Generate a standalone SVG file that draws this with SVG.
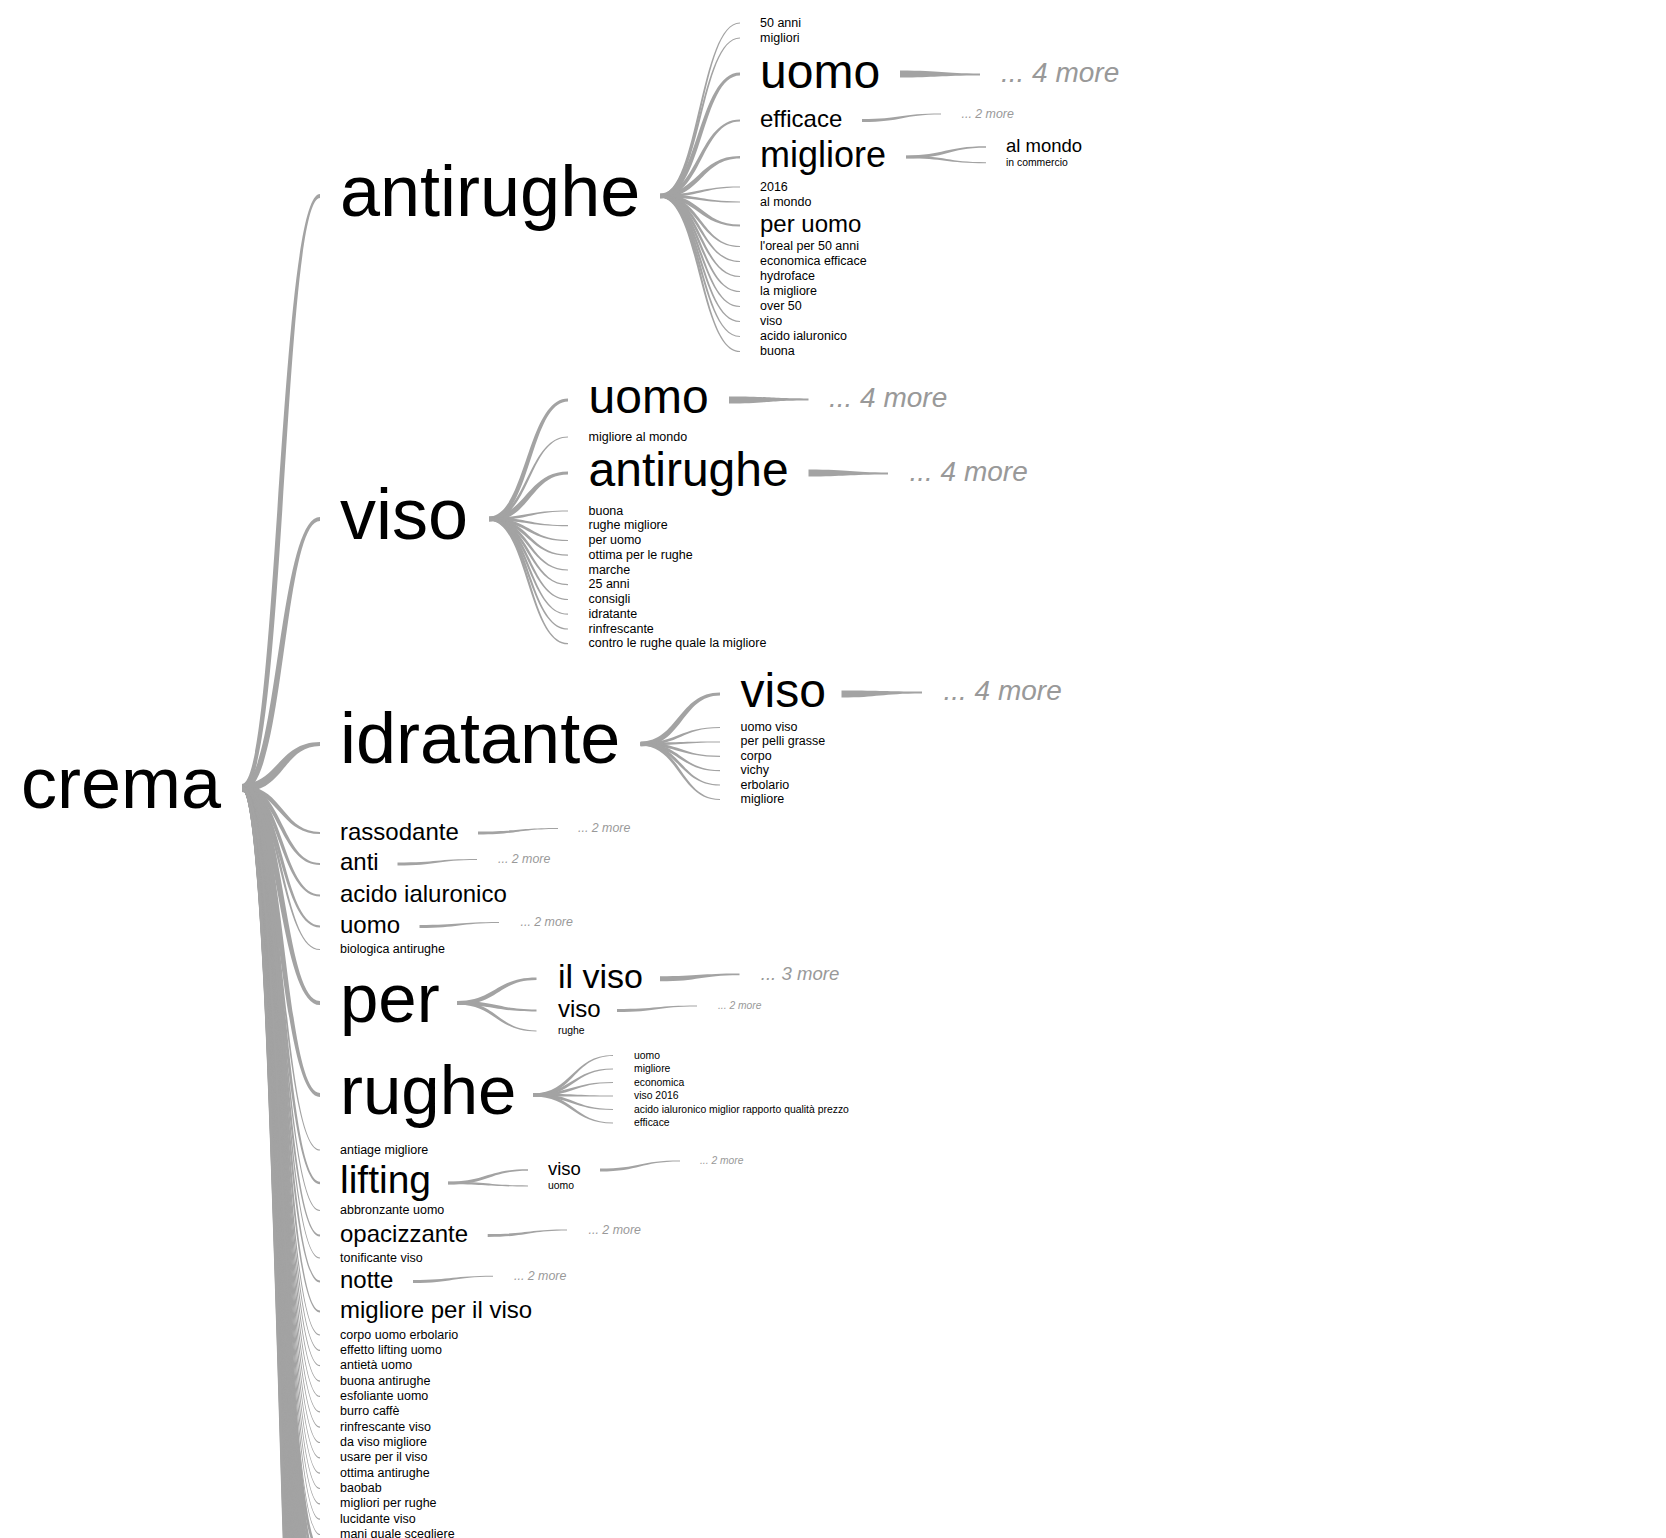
<svg xmlns="http://www.w3.org/2000/svg" width="1666" height="1538" viewBox="0 0 1666 1538">
<style>
text{font-family:"Liberation Sans",Arial,Helvetica,sans-serif;fill:#000}
.t72{font-size:72px}.t69{font-size:69px}.t48{font-size:48px}.t39{font-size:39px}.t36{font-size:36px}.t34{font-size:34px}
.t24{font-size:24px}.t18{font-size:18.5px}.t12{font-size:12.5px}.t10{font-size:10.4px}
.m{fill:#999;font-style:italic}
.m28{font-size:28px}.m18{font-size:18.6px}.m12{font-size:12.4px}.m10{font-size:10.3px}
#links path{fill:#a3a3a3;stroke:none}
#links path.h{fill:none;stroke:#a3a3a3;stroke-width:2.8}
</style>
<rect width="1666" height="1538" fill="#fff"/>
<g id="links">
<!-- crema fan: links continuing below the visible area -->
<path class="h" d="M242,788 C281,788 281,1549.9 320,1549.9"/>
<path class="h" d="M242,788 C281,788 281,1565.3 320,1565.3"/>
<path class="h" d="M242,788 C281,788 281,1580.7 320,1580.7"/>
<path class="h" d="M242,788 C281,788 281,1596.1 320,1596.1"/>
<path class="h" d="M242,788 C281,788 281,1611.5 320,1611.5"/>
<path class="h" d="M242,788 C281,788 281,1626.9 320,1626.9"/>
<path class="h" d="M242,788 C281,788 281,1642.3 320,1642.3"/>
<path class="h" d="M242,788 C281,788 281,1657.7 320,1657.7"/>
<path class="h" d="M242,788 C281,788 281,1673.1 320,1673.1"/>
<path class="h" d="M242,788 C281,788 281,1688.5 320,1688.5"/>
<path class="h" d="M242,788 C281,788 281,1703.9 320,1703.9"/>
<path class="h" d="M242,788 C281,788 281,1719.3 320,1719.3"/>
<path class="h" d="M242,788 C281,788 281,1734.7 320,1734.7"/>
<path class="h" d="M242,788 C281,788 281,1750.1 320,1750.1"/>
<path class="h" d="M242,788 C281,788 281,1765.5 320,1765.5"/>
<path class="h" d="M242,788 C281,788 281,1780.9 320,1780.9"/>
<path class="h" d="M242,788 C281,788 281,1796.3 320,1796.3"/>
<path class="h" d="M242,788 C281,788 281,1811.7 320,1811.7"/>
<path class="h" d="M242,788 C281,788 281,1827.1 320,1827.1"/>
<path class="h" d="M242,788 C281,788 281,1842.5 320,1842.5"/>
<path class="h" d="M242,788 C281,788 281,1857.9 320,1857.9"/>
<path class="h" d="M242,788 C281,788 281,1873.3 320,1873.3"/>
<path class="h" d="M242,788 C281,788 281,1888.7 320,1888.7"/>
<path class="h" d="M242,788 C281,788 281,1904.1 320,1904.1"/>
<path class="h" d="M242,788 C281,788 281,1919.5 320,1919.5"/>
<path class="h" d="M242,788 C281,788 281,1934.9 320,1934.9"/>
<path class="h" d="M242,788 C281,788 281,1950.3 320,1950.3"/>
<path class="h" d="M242,788 C281,788 281,1965.7 320,1965.7"/>
<path class="h" d="M242,788 C281,788 281,1981.1 320,1981.1"/>
<path class="h" d="M242,788 C281,788 281,1996.5 320,1996.5"/>
<path class="h" d="M242,788 C281,788 281,2011.9 320,2011.9"/>
<path class="h" d="M242,788 C281,788 281,2027.3 320,2027.3"/>
<path class="h" d="M242,788 C281,788 281,2042.7 320,2042.7"/>
<path class="h" d="M242,788 C281,788 281,2058.1 320,2058.1"/>
<path class="h" d="M242,788 C281,788 281,2073.5 320,2073.5"/>
<path class="h" d="M242,788 C281,788 281,2088.9 320,2088.9"/>
<!-- crema fan: big -->
<path d="M242,784 C277,784 279,194 320,194 L320,198 C283,198 285,792 242,792Z"/>
<path d="M242,784 C277,784 279,517 320,517 L320,521 C283,521 285,792 242,792Z"/>
<path d="M242,784 C277,784 279,742 320,742 L320,746 C283,746 285,792 242,792Z"/>
<path d="M242,784 C285,784 283,1001 320,1001 L320,1005 C279,1005 277,792 242,792Z"/>
<path d="M242,784 C285,784 283,1093 320,1093 L320,1097 C279,1097 277,792 242,792Z"/>
<path d="M242,785.5 C283.5,785.5 282.3,1181.7 320,1181.7 L320,1184.3 C279.7,1184.3 278.5,790.5 242,790.5Z"/>
<!-- crema fan: medium -->
<path d="M242,785.8 C283.2,785.8 282,832 320,832 L320,834 C280,834 278.8,790.2 242,790.2Z"/>
<path d="M242,785.8 C283.2,785.8 282,863 320,863 L320,865 C280,865 278.8,790.2 242,790.2Z"/>
<path d="M242,785.8 C283.2,785.8 282,894.5 320,894.5 L320,896.5 C280,896.5 278.8,790.2 242,790.2Z"/>
<path d="M242,785.8 C283.2,785.8 282,925.5 320,925.5 L320,927.5 C280,927.5 278.8,790.2 242,790.2Z"/>
<path d="M242,785.8 C283.2,785.8 282,1234.5 320,1234.5 L320,1236.5 C280,1236.5 278.8,790.2 242,790.2Z"/>
<path d="M242,785.8 C283.2,785.8 282,1280.5 320,1280.5 L320,1282.5 C280,1282.5 278.8,790.2 242,790.2Z"/>
<path d="M242,785.8 C283.2,785.8 282,1310.5 320,1310.5 L320,1312.5 C280,1312.5 278.8,790.2 242,790.2Z"/>
<!-- crema fan: small -->
<path d="M242,786.2 C282.8,786.2 281.6,948.9 320,948.9 L320,950.1 C280.4,950.1 279.2,789.8 242,789.8Z"/>
<path d="M242,786.2 C282.8,786.2 281.6,1149.4 320,1149.4 L320,1150.6 C280.4,1150.6 279.2,789.8 242,789.8Z"/>
<path d="M242,786.2 C282.8,786.2 281.6,1209.9 320,1209.9 L320,1211.1 C280.4,1211.1 279.2,789.8 242,789.8Z"/>
<path d="M242,786.2 C282.8,786.2 281.6,1257.4 320,1257.4 L320,1258.6 C280.4,1258.6 279.2,789.8 242,789.8Z"/>
<path d="M242,786.2 C282.8,786.2 281.6,1334.4 320,1334.4 L320,1335.6 C280.4,1335.6 279.2,789.8 242,789.8Z"/>
<path d="M242,786.2 C282.8,786.2 281.6,1349.8 320,1349.8 L320,1351 C280.4,1351 279.2,789.8 242,789.8Z"/>
<path d="M242,786.2 C282.8,786.2 281.6,1365.1 320,1365.1 L320,1366.3 C280.4,1366.3 279.2,789.8 242,789.8Z"/>
<path d="M242,786.2 C282.8,786.2 281.6,1380.5 320,1380.5 L320,1381.7 C280.4,1381.7 279.2,789.8 242,789.8Z"/>
<path d="M242,786.2 C282.8,786.2 281.6,1395.8 320,1395.8 L320,1397 C280.4,1397 279.2,789.8 242,789.8Z"/>
<path d="M242,786.2 C282.8,786.2 281.6,1411.2 320,1411.2 L320,1412.4 C280.4,1412.4 279.2,789.8 242,789.8Z"/>
<path d="M242,786.2 C282.8,786.2 281.6,1426.5 320,1426.5 L320,1427.7 C280.4,1427.7 279.2,789.8 242,789.8Z"/>
<path d="M242,786.2 C282.8,786.2 281.6,1441.9 320,1441.9 L320,1443.1 C280.4,1443.1 279.2,789.8 242,789.8Z"/>
<path d="M242,786.2 C282.8,786.2 281.6,1457.2 320,1457.2 L320,1458.4 C280.4,1458.4 279.2,789.8 242,789.8Z"/>
<path d="M242,786.2 C282.8,786.2 281.6,1472.6 320,1472.6 L320,1473.8 C280.4,1473.8 279.2,789.8 242,789.8Z"/>
<path d="M242,786.2 C282.8,786.2 281.6,1487.9 320,1487.9 L320,1489.1 C280.4,1489.1 279.2,789.8 242,789.8Z"/>
<path d="M242,786.2 C282.8,786.2 281.6,1503.3 320,1503.3 L320,1504.5 C280.4,1504.5 279.2,789.8 242,789.8Z"/>
<path d="M242,786.2 C282.8,786.2 281.6,1518.6 320,1518.6 L320,1519.8 C280.4,1519.8 279.2,789.8 242,789.8Z"/>
<path d="M242,786.2 C282.8,786.2 281.6,1533.9 320,1533.9 L320,1535.1 C280.4,1535.1 279.2,789.8 242,789.8Z"/>
<!-- antirughe fan -->
<path d="M660,193.5 C697.5,193.5 698.5,72.5 740,72.5 L740,75.5 C701.5,75.5 702.5,198.5 660,198.5Z"/>
<path d="M660,193.8 C697.8,193.8 698.7,156 740,156 L740,158.6 C701.3,158.6 702.2,198.2 660,198.2Z"/>
<path d="M660,194 C698,194 699,119.5 740,119.5 L740,121.5 C701,121.5 702,198 660,198Z"/>
<path d="M660,194 C702,194 701,224.5 740,224.5 L740,226.5 C699,226.5 698,198 660,198Z"/>
<path d="M660,194.5 C698.5,194.5 699.4,22.4 740,22.4 L740,23.6 C700.6,23.6 701.5,197.5 660,197.5Z"/>
<path d="M660,194.5 C698.5,194.5 699.4,37.4 740,37.4 L740,38.6 C700.6,38.6 701.5,197.5 660,197.5Z"/>
<path d="M660,194.5 C698.5,194.5 699.4,186.4 740,186.4 L740,187.6 C700.6,187.6 701.5,197.5 660,197.5Z"/>
<path d="M660,194.5 C701.5,194.5 700.6,201.4 740,201.4 L740,202.6 C699.4,202.6 698.5,197.5 660,197.5Z"/>
<path d="M660,194.5 C701.5,194.5 700.6,245.9 740,245.9 L740,247.1 C699.4,247.1 698.5,197.5 660,197.5Z"/>
<path d="M660,194.5 C701.5,194.5 700.6,260.9 740,260.9 L740,262.1 C699.4,262.1 698.5,197.5 660,197.5Z"/>
<path d="M660,194.5 C701.5,194.5 700.6,275.9 740,275.9 L740,277.1 C699.4,277.1 698.5,197.5 660,197.5Z"/>
<path d="M660,194.5 C701.5,194.5 700.6,290.9 740,290.9 L740,292.1 C699.4,292.1 698.5,197.5 660,197.5Z"/>
<path d="M660,194.5 C701.5,194.5 700.6,305.9 740,305.9 L740,307.1 C699.4,307.1 698.5,197.5 660,197.5Z"/>
<path d="M660,194.5 C701.5,194.5 700.6,320.9 740,320.9 L740,322.1 C699.4,322.1 698.5,197.5 660,197.5Z"/>
<path d="M660,194.5 C701.5,194.5 700.6,335.9 740,335.9 L740,337.1 C699.4,337.1 698.5,197.5 660,197.5Z"/>
<path d="M660,194.5 C701.5,194.5 700.6,350.9 740,350.9 L740,352.1 C699.4,352.1 698.5,197.5 660,197.5Z"/>
<path d="M900,70.5 C943.5,70.5 941,73.5 980,73.5 L980,75.5 C939,75.5 936.5,77.5 900,77.5Z"/>
<path d="M862,119 C900,119 901,113.5 941,113.5 L941,114.5 C902,114.5 903,122 862,122Z"/>
<path d="M906,155.5 C944.5,155.5 945.3,146.3 986,146.3 L986,147.7 C946.7,147.7 947.5,158.5 906,158.5Z"/>
<path d="M906,155.8 C947.2,155.8 946.5,162.2 986,162.2 L986,163.2 C945.5,163.2 944.8,158.2 906,158.2Z"/>
<!-- viso fan -->
<path d="M489,516.5 C526,516.5 527,398.5 568,398.5 L568,401.5 C530,401.5 531,521.5 489,521.5Z"/>
<path d="M489,516.5 C526,516.5 527,471.5 568,471.5 L568,474.5 C530,474.5 531,521.5 489,521.5Z"/>
<path d="M489,517.5 C527,517.5 527.9,436.4 568,436.4 L568,437.6 C529.1,437.6 530,520.5 489,520.5Z"/>
<path d="M489,517.5 C527,517.5 527.9,510.4 568,510.4 L568,511.6 C529.1,511.6 530,520.5 489,520.5Z"/>
<path d="M489,517.5 C530,517.5 529.1,525.1 568,525.1 L568,526.3 C527.9,526.3 527,520.5 489,520.5Z"/>
<path d="M489,517.5 C530,517.5 529.1,539.9 568,539.9 L568,541.1 C527.9,541.1 527,520.5 489,520.5Z"/>
<path d="M489,517.5 C530,517.5 529.1,554.6 568,554.6 L568,555.8 C527.9,555.8 527,520.5 489,520.5Z"/>
<path d="M489,517.5 C530,517.5 529.1,569.4 568,569.4 L568,570.6 C527.9,570.6 527,520.5 489,520.5Z"/>
<path d="M489,517.5 C530,517.5 529.1,584.1 568,584.1 L568,585.3 C527.9,585.3 527,520.5 489,520.5Z"/>
<path d="M489,517.5 C530,517.5 529.1,598.9 568,598.9 L568,600.1 C527.9,600.1 527,520.5 489,520.5Z"/>
<path d="M489,517.5 C530,517.5 529.1,613.6 568,613.6 L568,614.8 C527.9,614.8 527,520.5 489,520.5Z"/>
<path d="M489,517.5 C530,517.5 529.1,628.4 568,628.4 L568,629.6 C527.9,629.6 527,520.5 489,520.5Z"/>
<path d="M489,517.5 C530,517.5 529.1,643.1 568,643.1 L568,644.3 C527.9,644.3 527,520.5 489,520.5Z"/>
<path d="M729,396.5 C772.25,396.5 769.75,398.5 808.5,398.5 L808.5,400.5 C767.75,400.5 765.25,403.5 729,403.5Z"/>
<path d="M808.5,469.5 C851.75,469.5 849.25,472.5 888,472.5 L888,474.5 C847.25,474.5 844.75,476.5 808.5,476.5Z"/>
<!-- idratante fan -->
<path d="M640.5,741.5 C677.75,741.5 678.75,692.5 720,692.5 L720,695.5 C681.75,695.5 682.75,746.5 640.5,746.5Z"/>
<path d="M640.5,742.5 C678.75,742.5 679.65,726.9 720,726.9 L720,728.1 C680.85,728.1 681.75,745.5 640.5,745.5Z"/>
<path d="M640.5,742.5 C678.75,742.5 679.65,741.4 720,741.4 L720,742.6 C680.85,742.6 681.75,745.5 640.5,745.5Z"/>
<path d="M640.5,742.5 C681.75,742.5 680.85,755.7 720,755.7 L720,756.9 C679.65,756.9 678.75,745.5 640.5,745.5Z"/>
<path d="M640.5,742.5 C681.75,742.5 680.85,770.1 720,770.1 L720,771.3 C679.65,771.3 678.75,745.5 640.5,745.5Z"/>
<path d="M640.5,742.5 C681.75,742.5 680.85,784.4 720,784.4 L720,785.6 C679.65,785.6 678.75,745.5 640.5,745.5Z"/>
<path d="M640.5,742.5 C681.75,742.5 680.85,798.9 720,798.9 L720,800.1 C679.65,800.1 678.75,745.5 640.5,745.5Z"/>
<path d="M841.5,690.5 C885.25,690.5 882.75,691.5 922,691.5 L922,693.5 C880.75,693.5 878.25,697.5 841.5,697.5Z"/>
<!-- level-1 "more" links -->
<path d="M478,831.5 C518,831.5 518,828 558,828 L558,829 C518,829 518,834.5 478,834.5Z"/>
<path d="M397.5,862.5 C437,862.5 437,859 477,859 L477,860 C437,860 437,865.5 397.5,865.5Z"/>
<path d="M419.5,925 C459,925 459,922 499,922 L499,923 C459,923 459,928 419.5,928Z"/>
<!-- per fan -->
<path d="M457,1001 C494.75,1001 495.55,977.6 536.5,977.6 L536.5,980 C497.95,980 498.75,1005 457,1005Z"/>
<path d="M457,1001 C498.75,1001 497.75,1009.5 536.5,1009.5 L536.5,1011.5 C495.75,1011.5 494.75,1005 457,1005Z"/>
<path d="M457,1001.5 C498.25,1001.5 497.35,1030.4 536.5,1030.4 L536.5,1031.6 C496.15,1031.6 495.25,1004.5 457,1004.5Z"/>
<path d="M660,976.3 C699.75,976.3 699.75,973.6 739.5,973.6 L739.5,975.2 C699.75,975.2 699.75,981.3 660,981.3Z"/>
<path d="M617,1009 C657,1009 657,1005.5 697,1005.5 L697,1006.5 C657,1006.5 657,1012 617,1012Z"/>
<!-- rughe fan -->
<path d="M533,1093.5 C571.5,1093.5 572.5,1055 613,1055 L613,1056 C573.5,1056 574.5,1096.5 533,1096.5Z"/>
<path d="M533,1093.5 C571.5,1093.5 572.5,1068.5 613,1068.5 L613,1069.5 C573.5,1069.5 574.5,1096.5 533,1096.5Z"/>
<path d="M533,1093.5 C571.5,1093.5 572.5,1082 613,1082 L613,1083 C573.5,1083 574.5,1096.5 533,1096.5Z"/>
<path d="M533,1093.5 C574.5,1093.5 573.5,1095.5 613,1095.5 L613,1096.5 C572.5,1096.5 571.5,1096.5 533,1096.5Z"/>
<path d="M533,1093.5 C574.5,1093.5 573.5,1109 613,1109 L613,1110 C572.5,1110 571.5,1096.5 533,1096.5Z"/>
<path d="M533,1093.5 C574.5,1093.5 573.5,1122.5 613,1122.5 L613,1123.5 C572.5,1123.5 571.5,1096.5 533,1096.5Z"/>
<!-- lifting fan -->
<path d="M448,1181.5 C486.5,1181.5 487.2,1169.2 528,1169.2 L528,1170.8 C488.8,1170.8 489.5,1184.5 448,1184.5Z"/>
<path d="M448,1181.8 C489.2,1181.8 488.6,1185.4 528,1185.4 L528,1186.6 C487.4,1186.6 486.8,1184.2 448,1184.2Z"/>
<path d="M600,1168.5 C640,1168.5 640,1160.5 680,1160.5 L680,1161.5 C640,1161.5 640,1171.5 600,1171.5Z"/>
<!-- opacizzante, notte -->
<path d="M487.7,1234 C527.4,1234 527.4,1229.5 567,1229.5 L567,1230.5 C527.4,1230.5 527.4,1237 487.7,1237Z"/>
<path d="M413,1280 C453,1280 453,1275.8 493,1275.8 L493,1276.8 C453,1276.8 453,1283 413,1283Z"/>
</g>
<g id="n-crema"><text class="t72" x="21" y="807.5">crema</text></g>
<!-- level 1 -->
<g id="n-antirughe"><text class="t72" x="340" y="216">antirughe</text></g>
<g id="n-viso"><text class="t72" x="340" y="539">viso</text></g>
<g id="n-idratante"><text class="t72" x="340" y="763">idratante</text></g>
<g id="n-rassodante"><text class="t24" x="340" y="839.5">rassodante</text></g>
<g id="n-anti"><text class="t24" x="340" y="870">anti</text></g>
<g id="n-acido-ialuronico"><text class="t24" x="340" y="902">acido ialuronico</text></g>
<g id="n-uomo"><text class="t24" x="340" y="933">uomo</text></g>
<g id="n-biologica-antirughe"><text class="t12" x="340" y="953">biologica antirughe</text></g>
<g id="n-per"><text class="t69" x="340" y="1022">per</text></g>
<g id="n-rughe"><text class="t69" x="340" y="1113.5">rughe</text></g>
<g id="n-antiage-migliore"><text class="t12" x="340" y="1153.5">antiage migliore</text></g>
<g id="n-lifting"><text class="t39" x="340" y="1193">lifting</text></g>
<g id="n-abbronzante-uomo"><text class="t12" x="340" y="1214">abbronzante uomo</text></g>
<g id="n-opacizzante"><text class="t24" x="340" y="1242">opacizzante</text></g>
<g id="n-tonificante-viso"><text class="t12" x="340" y="1261.5">tonificante viso</text></g>
<g id="n-notte"><text class="t24" x="340" y="1287.5">notte</text></g>
<g id="n-migliore-per-il-viso"><text class="t24" x="340" y="1318">migliore per il viso</text></g>
<g id="n-corpo-uomo-erbolario"><text class="t12" x="340" y="1338.5">corpo uomo erbolario</text></g>
<g id="n-effetto-lifting-uomo"><text class="t12" x="340" y="1353.9">effetto lifting uomo</text></g>
<g id="n-antieta-uomo"><text class="t12" x="340" y="1369.2">antietà uomo</text></g>
<g id="n-buona-antirughe"><text class="t12" x="340" y="1384.6">buona antirughe</text></g>
<g id="n-esfoliante-uomo"><text class="t12" x="340" y="1399.9">esfoliante uomo</text></g>
<g id="n-burro-caffe"><text class="t12" x="340" y="1415.3">burro caffè</text></g>
<g id="n-rinfrescante-viso"><text class="t12" x="340" y="1430.6">rinfrescante viso</text></g>
<g id="n-da-viso-migliore"><text class="t12" x="340" y="1446">da viso migliore</text></g>
<g id="n-usare-per-il-viso"><text class="t12" x="340" y="1461.3">usare per il viso</text></g>
<g id="n-ottima-antirughe"><text class="t12" x="340" y="1476.7">ottima antirughe</text></g>
<g id="n-baobab"><text class="t12" x="340" y="1492">baobab</text></g>
<g id="n-migliori-per-rughe"><text class="t12" x="340" y="1507.4">migliori per rughe</text></g>
<g id="n-lucidante-viso"><text class="t12" x="340" y="1522.7">lucidante viso</text></g>
<g id="n-mani-quale-scegliere"><text class="t12" x="340" y="1538">mani quale scegliere</text></g>
<!-- antirughe children -->
<g id="n-antirughe-50-anni"><text class="t12" x="760" y="26.7">50 anni</text></g>
<g id="n-antirughe-migliori"><text class="t12" x="760" y="41.7">migliori</text></g>
<g id="n-antirughe-uomo"><text class="t48" x="760" y="88">uomo</text></g>
<g id="n-antirughe-uomo-more"><text class="m m28" x="1001" y="82">... 4 more</text></g>
<g id="n-antirughe-efficace"><text class="t24" x="760" y="127">efficace</text></g>
<g id="n-antirughe-efficace-more"><text class="m m12" x="961.5" y="117.5">... 2 more</text></g>
<g id="n-antirughe-migliore"><text class="t36" x="760" y="167">migliore</text></g>
<g id="n-antirughe-migliore-al-mondo"><text class="t18" x="1006" y="152">al mondo</text></g>
<g id="n-antirughe-migliore-in-commercio"><text class="t10" x="1006" y="165.7">in commercio</text></g>
<g id="n-antirughe-2016"><text class="t12" x="760" y="190.7">2016</text></g>
<g id="n-antirughe-al-mondo"><text class="t12" x="760" y="205.7">al mondo</text></g>
<g id="n-antirughe-per-uomo"><text class="t24" x="760" y="232">per uomo</text></g>
<g id="n-antirughe-loreal"><text class="t12" x="760" y="250">l'oreal per 50 anni</text></g>
<g id="n-antirughe-economica-efficace"><text class="t12" x="760" y="265">economica efficace</text></g>
<g id="n-antirughe-hydroface"><text class="t12" x="760" y="280">hydroface</text></g>
<g id="n-antirughe-la-migliore"><text class="t12" x="760" y="295">la migliore</text></g>
<g id="n-antirughe-over-50"><text class="t12" x="760" y="310">over 50</text></g>
<g id="n-antirughe-viso"><text class="t12" x="760" y="325">viso</text></g>
<g id="n-antirughe-acido-ialuronico"><text class="t12" x="760" y="340">acido ialuronico</text></g>
<g id="n-antirughe-buona"><text class="t12" x="760" y="355">buona</text></g>
<!-- viso children -->
<g id="n-viso-uomo"><text class="t48" x="588.5" y="413">uomo</text></g>
<g id="n-viso-uomo-more"><text class="m m28" x="829" y="407">... 4 more</text></g>
<g id="n-viso-migliore-al-mondo"><text class="t12" x="588.5" y="440.5">migliore al mondo</text></g>
<g id="n-viso-antirughe"><text class="t48" x="588.5" y="486">antirughe</text></g>
<g id="n-viso-antirughe-more"><text class="m m28" x="909.5" y="481">... 4 more</text></g>
<g id="n-viso-buona"><text class="t12" x="588.5" y="514.5">buona</text></g>
<g id="n-viso-rughe-migliore"><text class="t12" x="588.5" y="529.2">rughe migliore</text></g>
<g id="n-viso-per-uomo"><text class="t12" x="588.5" y="544">per uomo</text></g>
<g id="n-viso-ottima"><text class="t12" x="588.5" y="558.7">ottima per le rughe</text></g>
<g id="n-viso-marche"><text class="t12" x="588.5" y="573.5">marche</text></g>
<g id="n-viso-25-anni"><text class="t12" x="588.5" y="588.2">25 anni</text></g>
<g id="n-viso-consigli"><text class="t12" x="588.5" y="603">consigli</text></g>
<g id="n-viso-idratante"><text class="t12" x="588.5" y="617.7">idratante</text></g>
<g id="n-viso-rinfrescante"><text class="t12" x="588.5" y="632.5">rinfrescante</text></g>
<g id="n-viso-contro"><text class="t12" x="588.5" y="647.2">contro le rughe quale la migliore</text></g>
<!-- idratante children -->
<g id="n-idratante-viso"><text class="t48" x="740.5" y="706.6">viso</text></g>
<g id="n-idratante-viso-more"><text class="m m28" x="943.5" y="700">... 4 more</text></g>
<g id="n-idratante-uomo-viso"><text class="t12" x="740.5" y="731">uomo viso</text></g>
<g id="n-idratante-per-pelli-grasse"><text class="t12" x="740.5" y="745.4">per pelli grasse</text></g>
<g id="n-idratante-corpo"><text class="t12" x="740.5" y="759.8">corpo</text></g>
<g id="n-idratante-vichy"><text class="t12" x="740.5" y="774.2">vichy</text></g>
<g id="n-idratante-erbolario"><text class="t12" x="740.5" y="788.6">erbolario</text></g>
<g id="n-idratante-migliore"><text class="t12" x="740.5" y="803">migliore</text></g>
<!-- level-1 mores -->
<g id="n-rassodante-more"><text class="m m12" x="578" y="832">... 2 more</text></g>
<g id="n-anti-more"><text class="m m12" x="498" y="863">... 2 more</text></g>
<g id="n-uomo-more"><text class="m m12" x="520.5" y="926">... 2 more</text></g>
<!-- per children -->
<g id="n-per-il-viso"><text class="t34" x="558" y="988">il viso</text></g>
<g id="n-per-il-viso-more"><text class="m m18" x="760.75" y="980">... 3 more</text></g>
<g id="n-per-viso"><text class="t24" x="558" y="1017">viso</text></g>
<g id="n-per-viso-more"><text class="m m10" x="718" y="1009">... 2 more</text></g>
<g id="n-per-rughe"><text class="t10" x="558" y="1034">rughe</text></g>
<!-- rughe children -->
<g id="n-rughe-uomo"><text class="t10" x="634" y="1058.5">uomo</text></g>
<g id="n-rughe-migliore"><text class="t10" x="634" y="1072">migliore</text></g>
<g id="n-rughe-economica"><text class="t10" x="634" y="1085.5">economica</text></g>
<g id="n-rughe-viso-2016"><text class="t10" x="634" y="1099">viso 2016</text></g>
<g id="n-rughe-acido"><text class="t10" x="634" y="1112.5">acido ialuronico miglior rapporto qualità prezzo</text></g>
<g id="n-rughe-efficace"><text class="t10" x="634" y="1126">efficace</text></g>
<!-- lifting children -->
<g id="n-lifting-viso"><text class="t18" x="548" y="1175">viso</text></g>
<g id="n-lifting-viso-more"><text class="m m10" x="700" y="1164">... 2 more</text></g>
<g id="n-lifting-uomo"><text class="t10" x="548" y="1189">uomo</text></g>
<g id="n-opacizzante-more"><text class="m m12" x="588.6" y="1233.5">... 2 more</text></g>
<g id="n-notte-more"><text class="m m12" x="514" y="1280">... 2 more</text></g>
</svg>
